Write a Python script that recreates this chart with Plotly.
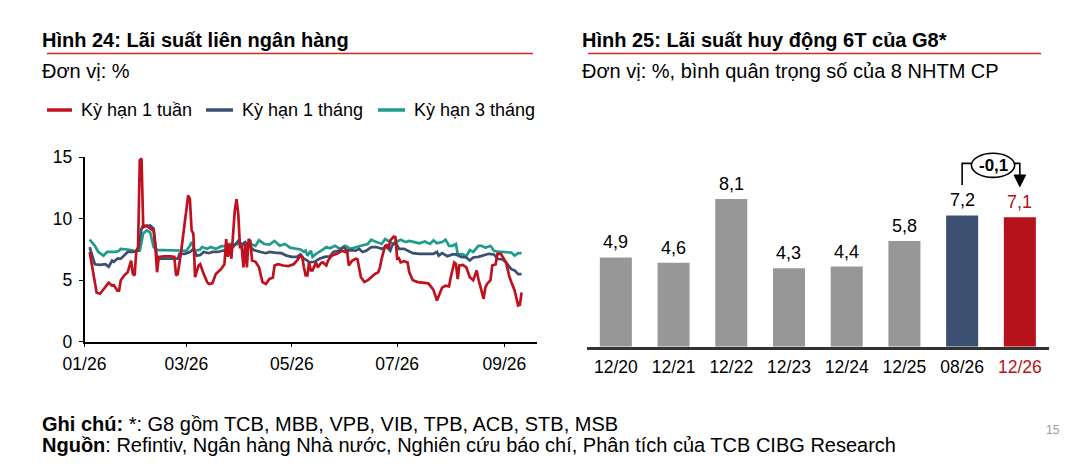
import plotly.graph_objects as go

# ---------------- DATA ----------------
YEAR = "2026-"
red_days = ["01-04","01-08","01-10","01-13","01-15","01-17","01-18","01-20","01-21","01-22",
            "01-24","01-26","01-27","01-28","01-29","01-30","01-31","02-01","02-02","02-03",
            "02-04","02-06","02-08","02-10","02-11","02-12","02-13","02-16","02-20","02-22",
            "02-23","02-24","02-26","02-28","03-02","03-03","03-04","03-05","03-06","03-08",
            "03-09","03-11","03-13","03-14","03-16","03-18","03-21","03-23","03-24","03-25",
            "03-26","03-27","03-28","03-29","03-30","03-31","04-01","04-02","04-03","04-04",
            "04-05","04-06","04-07","04-08","04-10","04-12","04-14","04-16","04-18","04-20",
            "04-21","04-23","04-26","04-29","05-02","05-04","05-06","05-07","05-08","05-09",
            "05-10","05-11","05-12","05-13","05-15","05-16","05-18","05-19","05-21","05-22",
            "05-24","05-27","05-30","06-01","06-02","06-03","06-05","06-07","06-08","06-09",
            "06-10","06-12","06-14","06-16","06-18","06-20","06-21","06-22","06-24","06-25",
            "06-26","06-27","06-29","06-30","07-01","07-02","07-03","07-05","07-07","07-08",
            "07-10","07-13","07-15","07-19","07-21","07-22","07-24","07-25","07-27","07-29",
            "07-31","08-01","08-03","08-04","08-05","08-06","08-08","08-10","08-12","08-14",
            "08-16","08-17","08-19","08-20","08-21","08-22","08-24","08-25","08-27","08-28",
            "08-30","08-31","09-02","09-04","09-05","09-07","09-09","09-10","09-11"]
red_vals = [7.3,4.0,3.9,4.4,4.8,4.55,4.6,4.15,4.15,5.0,
            5.4,5.65,6.2,6.6,5.5,5.4,7.4,7.7,14.75,14.9,
            9.3,9.45,9.2,9.05,7.7,5.65,6.9,6.95,6.95,6.9,
            5.4,5.5,7.4,9.6,11.9,11.6,9.05,8.8,5.25,6.2,
            6.3,5.5,4.85,4.7,4.75,5.5,5.9,6.3,8.35,6.9,
            7.95,6.75,8.5,10.7,11.6,10.4,7.7,7.7,6.05,7.95,
            6.05,8.35,8.2,6.6,6.5,6.05,4.85,4.7,5.1,5.2,
            6.2,6.3,6.2,6.15,6.3,6.6,7.0,6.9,6.05,5.4,
            5.4,6.45,5.8,5.8,6.45,6.05,6.4,6.45,6.2,6.6,
            7.0,7.15,7.4,7.3,7.4,6.2,6.6,6.75,6.7,5.9,
            5.25,4.85,5.0,5.25,5.5,5.65,6.05,6.75,7.8,7.85,
            7.6,8.25,8.55,8.5,6.75,6.8,6.45,6.55,6.45,5.65,
            5.0,4.85,4.8,4.75,4.4,4.2,3.35,3.75,4.4,4.55,
            4.5,5.25,6.45,6.35,5.1,6.2,6.25,6.05,5.25,5.0,
            5.8,5.1,3.9,3.5,4.4,4.7,5.0,6.2,6.3,7.15,
            7.15,6.9,6.45,5.25,4.85,4.15,2.95,3.0,4.0]

blue_days = ["01-04","01-07","01-10","01-13","01-15","01-17","01-18","01-20","01-22","01-24",
             "01-26","01-29","02-01","02-03","02-04","02-06","02-08","02-10","02-11","02-12",
             "02-16","02-22","02-24","02-25","02-28","03-03","03-05","03-07","03-09","03-11",
             "03-14","03-16","03-19","03-22","03-25","03-28","03-31","04-02","04-04","04-06",
             "04-09","04-11","04-13","04-16","04-18","04-21","04-25","04-28","05-01","05-04",
             "05-06","05-08","05-10","05-11","05-14","05-17","05-20","05-23","05-25","05-28",
             "05-31","06-02","06-04","06-07","06-09","06-11","06-13","06-16","06-19","06-22",
             "06-25","06-27","06-28","06-30","07-02","07-05","07-07","07-10","07-14","07-19",
             "07-22","07-24","07-25","07-27","07-30","08-02","08-04","08-07","08-10","08-12",
             "08-14","08-17","08-20","08-23","08-26","08-28","08-31","09-02","09-05","09-07",
             "09-09","09-11"]
blue_vals = [7.7,6.3,6.25,6.3,6.1,6.6,6.5,6.75,6.75,7.0,
             7.3,7.3,7.4,9.2,9.45,9.4,9.45,9.2,7.7,6.75,
             6.75,6.75,6.75,7.15,7.15,7.3,7.55,7.0,7.05,7.3,
             7.2,7.3,7.3,7.4,7.55,7.7,8.2,7.9,8.1,7.8,
             7.45,7.4,7.3,7.2,7.3,7.25,7.2,7.0,6.9,6.9,
             7.1,6.75,6.6,6.45,6.5,6.75,6.9,6.95,7.3,7.4,
             7.7,7.4,7.45,7.4,7.55,7.3,7.4,7.7,7.7,7.55,
             7.7,7.4,7.8,8.1,7.55,7.55,7.4,7.2,7.15,7.15,
             7.15,7.3,7.0,7.2,6.95,7.1,7.1,6.9,6.85,6.6,
             6.85,6.9,7.0,7.15,7.1,6.75,6.7,6.45,5.9,5.8,
             5.5,5.5]

green_days = ["01-04","01-07","01-09","01-12","01-14","01-17","01-19","01-21","01-22","01-26",
              "01-30","02-02","02-04","02-06","02-08","02-10","02-12","02-16","02-22","02-26",
              "03-01","03-03","03-04","03-06","03-09","03-10","03-13","03-15","03-18","03-21",
              "03-24","03-26","03-29","04-01","04-04","04-07","04-10","04-12","04-15","04-18",
              "04-21","04-24","04-27","04-30","05-03","05-06","05-08","05-09","05-10","05-12",
              "05-13","05-15","05-18","05-21","05-23","05-26","05-29","06-01","06-04","06-07",
              "06-10","06-14","06-16","06-19","06-22","06-24","06-27","06-29","07-01","07-03",
              "07-06","07-08","07-11","07-14","07-17","07-20","07-22","07-24","07-27","07-29",
              "07-31","08-02","08-04","08-05","08-08","08-10","08-12","08-14","08-17","08-19",
              "08-21","08-24","08-26","08-29","08-31","09-03","09-05","09-07","09-09","09-11"]
green_vals = [8.3,7.8,7.3,7.0,7.3,7.3,7.3,7.4,7.55,7.5,
              7.4,7.4,8.8,9.05,8.9,7.7,7.45,7.45,7.45,7.4,
              7.4,7.8,8.1,7.4,7.5,7.7,7.55,7.7,7.55,7.75,
              7.8,7.95,7.9,8.0,7.8,7.95,7.8,8.25,7.95,7.9,
              8.2,7.8,7.95,7.65,7.55,7.5,7.3,7.4,7.0,7.4,
              6.9,7.15,7.4,7.7,7.6,7.8,7.55,7.8,7.55,7.7,
              7.8,7.95,8.3,8.1,7.95,8.35,8.1,7.95,8.15,8.3,
              8.1,8.2,8.1,8.0,8.15,7.95,8.25,8.0,8.1,8.3,
              7.8,7.8,7.95,7.15,7.1,6.95,7.45,7.3,7.8,7.8,
              7.65,7.8,7.4,7.3,7.3,7.3,7.25,7.0,7.2,7.2]

series_names = ["Kỳ hạn 1 tuần", "Kỳ hạn 1 tháng", "Kỳ hạn 3 tháng"]
x_tick_dates = ["2026-01-01", "2026-03-01", "2026-05-01", "2026-07-01", "2026-09-01"]
x_tick_text = ["01/26", "03/26", "05/26", "07/26", "09/26"]
y_ticks = [0, 5, 10, 15]

bar_cats = ["12/20", "12/21", "12/22", "12/23", "12/24", "12/25", "08/26", "12/26"]
bar_vals = [4.9, 4.6, 8.1, 4.3, 4.4, 5.8, 7.2, 7.1]

# ---------------- STYLE ----------------
W, H = 1072, 467
PAGE_OFF = 8  # the page places the figure 8px from the top-left corner
FONT = "Liberation Sans, Arial, sans-serif"
RED, NAVY, TEAL = "#C0111F", "#3B5070", "#1F9C8A"
GRAY = "#979797"
BAR_RED = "#B5121B"


def px(x):
    return (x - PAGE_OFF) / W


def py(y):
    return 1 - (y - PAGE_OFF) / H


fig = go.Figure()

line_specs = [
    (series_names[2], green_days, green_vals, TEAL),
    (series_names[1], blue_days, blue_vals, NAVY),
    (series_names[0], red_days, red_vals, RED),
]
for name, days, vals, col in line_specs:
    fig.add_trace(go.Scatter(
        x=[YEAR + d for d in days], y=vals, name=name, mode="lines",
        line=dict(color=col, width=2.7), showlegend=False,
        xaxis="x", yaxis="y", hoverinfo="skip"))

n = len(bar_cats)
bar_colors = [GRAY] * (n - 2) + [NAVY, BAR_RED]
label_colors = ["#000000"] * (n - 1) + [BAR_RED]
fig.add_trace(go.Bar(
    x=list(range(n)), y=bar_vals, marker=dict(color=bar_colors, line=dict(width=0)),
    width=0.555, xaxis="x2", yaxis="y2", showlegend=False, hoverinfo="skip"))


def fmt(v):
    return f"{v:.1f}".replace(".", ",")


annotations = []
for i, v in enumerate(bar_vals):
    annotations.append(dict(
        x=i, y=v, xref="x2", yref="y2", text=fmt(v), showarrow=False,
        yanchor="bottom", yshift=3, font=dict(size=18, color=label_colors[i], family=FONT)))

# change annotation between the last two bars
diff = bar_vals[-1] - bar_vals[-2]
i0, i1 = n - 2, n - 1
y_low = max(bar_vals[-2], bar_vals[-1]) + 1.67
y_top = y_low + 1.19
shapes = [
    dict(type="path", xref="x2", yref="y2",
         path=f"M {i0},{y_low} L {i0},{y_top} L {i0 + 0.16},{y_top}",
         line=dict(color="black", width=1.6)),
    dict(type="path", xref="x2", yref="y2",
         path=f"M {i0 + 0.9},{y_top} L {i1},{y_top} L {i1},{y_low + 0.5}",
         line=dict(color="black", width=1.6)),
    dict(type="path", xref="x2", yref="y2",
         path=f"M {i1 - 0.1},{y_low + 0.55} L {i1 + 0.1},{y_low + 0.55} L {i1},{y_low - 0.09} Z",
         fillcolor="black", line=dict(color="black", width=1)),
    dict(type="circle", xref="x2", yref="y2",
         x0=i0 + 0.16, x1=i0 + 0.91, y0=y_top - 0.77, y1=y_top + 0.55,
         fillcolor="white", line=dict(color="black", width=1.6)),
]
annotations.append(dict(
    x=i0 + 0.535, y=y_top - 0.11, xref="x2", yref="y2", text=f"<b>{fmt(diff)}</b>",
    showarrow=False, font=dict(size=17, color="black", family=FONT)))

# titles and subtitles
def label(x, y, text, size=18, color="black", anchor="left"):
    annotations.append(dict(
        x=px(x), y=py(y), xref="paper", yref="paper", text=text, showarrow=False,
        xanchor=anchor, yanchor="middle", font=dict(size=size, color=color, family=FONT)))


label(40, 40, "<b>Hình 24: Lãi suất liên ngân hàng</b>", size=20)
label(580, 40, "<b>Hình 25: Lãi suất huy động 6T của G8*</b>", size=20)
label(40, 71, "Đơn vị: %", size=20)
label(580, 71, "Đơn vị: %, bình quân trọng số của 8 NHTM CP", size=20)

shapes.append(dict(type="line", xref="paper", yref="paper", x0=px(47), x1=px(533),
                   y0=py(53.5), y1=py(53.5), line=dict(color="#E8202A", width=1.5)))
shapes.append(dict(type="line", xref="paper", yref="paper", x0=px(588), x1=px(1041),
                   y0=py(53.5), y1=py(53.5), line=dict(color="#E8202A", width=1.5)))

# manual legend
legend_pos = [(47, 72, 79), (206, 233, 240), (378, 405, 412)]
legend_cols = [RED, NAVY, TEAL]
for (a, b, t), col, name in zip(legend_pos, legend_cols, series_names):
    shapes.append(dict(type="line", xref="paper", yref="paper", x0=px(a), x1=px(b),
                       y0=py(110), y1=py(110), line=dict(color=col, width=3.5)))
    label(t, 110, name, size=18)

# footnotes
label(40, 424, "<b>Ghi chú:</b> *: G8 gồm TCB, MBB, VPB, VIB, TPB, ACB, STB, MSB", size=20)
label(40, 445, "<b>Nguồn</b>: Refintiv, Ngân hàng Nhà nước, Nghiên cứu báo chí, Phân tích của TCB CIBG Research", size=20)
label(1062, 430, "15", size=12, color="#9A9A9A", anchor="right")

bar_ticktext = [c if i < n - 1 else f'<span style="color:{BAR_RED}">{c}</span>'
                for i, c in enumerate(bar_cats)]

fig.update_layout(
    width=W, height=H, autosize=False,
    margin=dict(l=0, r=0, t=0, b=0, pad=0, autoexpand=False),
    paper_bgcolor="white", plot_bgcolor="white",
    font=dict(family=FONT, color="black", size=17.5),
    showlegend=False,
    xaxis=dict(domain=[px(84.5), px(537)], type="date",
               range=["2026-01-01", "2026-09-19 22:00"], anchor="y", automargin=False,
               showline=True, linecolor="black", linewidth=1.5, mirror=False,
               ticks="outside", ticklen=4, tickwidth=1.3, tickcolor="black",
               tickvals=x_tick_dates, ticktext=x_tick_text, ticklabelstandoff=2,
               tickfont=dict(size=17.5), showgrid=False, zeroline=False),
    yaxis=dict(domain=[py(341.7), py(157.3)], range=[0, 15], anchor="x", automargin=False,
               showline=True, linecolor="black", linewidth=1.5,
               ticks="outside", ticklen=4, tickwidth=1.3, tickcolor="black",
               tickvals=y_ticks, tickfont=dict(size=17.5), ticklabelstandoff=3,
               showgrid=False, zeroline=False),
    xaxis2=dict(domain=[px(587), px(1048.7)], range=[-0.5, n - 0.5], anchor="y2",
                automargin=False,
                showline=True, linecolor="#333333", linewidth=2.5,
                ticks="", tickvals=list(range(n)), ticktext=bar_ticktext,
                ticklabelstandoff=3,
                tickfont=dict(size=17.5), showgrid=False, zeroline=False),
    yaxis2=dict(domain=[py(346.7), py(146.2)], range=[0, 11], anchor="x2",
                automargin=False,
                visible=False, showgrid=False, zeroline=False),
    shapes=shapes,
    annotations=annotations,
)

fig.write_html("out.html")
